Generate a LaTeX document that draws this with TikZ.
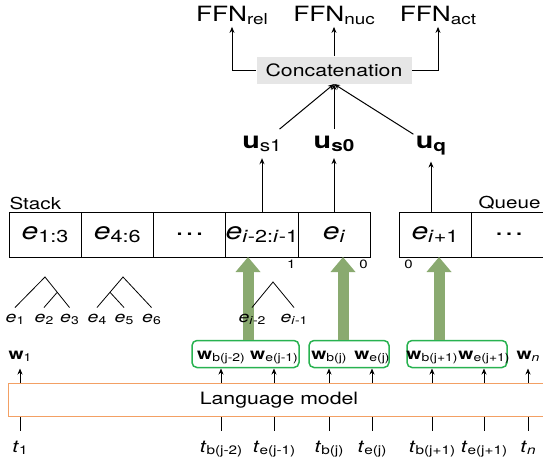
\documentclass[tikz,border=0pt]{standalone}
\usepackage{graphicx}
\usepackage{fontspec}
\setmainfont{TeX Gyre Heros}[FakeStretch=1.25]
\usetikzlibrary{arrows.meta, positioning, calc}

\definecolor{feedgreen}{RGB}{138,170,112}
\definecolor{spangreen}{RGB}{40,178,80}
\definecolor{lmorange}{RGB}{243,160,100}
\definecolor{catgray}{RGB}{230,230,230}

\newcommand{\setfs}[1]{\fontsize{#1}{#1}\selectfont}
\newcommand{\lo}[1]{\raisebox{-.15em}{\scalebox{.72}{#1}}}

\begin{document}
\begin{tikzpicture}[x=1pt, y=-1pt, line width=1pt, >={Stealth[length=6pt, width=5pt]},
  ffn/.style={font=\setfs{21}, inner sep=2pt, anchor=base},
  concat/.style={fill=catgray, minimum width=155pt, minimum height=27pt, inner sep=0pt, font=\setfs{17}},
  vec/.style={font=\setfs{23}\bfseries, inner xsep=2pt, inner ysep=6pt, anchor=base},
  cell/.style={draw, line width=.8pt, minimum width=72.2pt, minimum height=45pt, inner sep=0pt, outer sep=0pt, font=\setfs{24}},
  title/.style={font=\setfs{16.5}, inner sep=0pt},
  idx/.style={font=\setfs{12}, inner sep=2pt},
  leaf/.style={font=\setfs{15.5}, anchor=base, text height=8pt, text depth=2pt, inner xsep=1pt, inner ysep=6pt},
  feed/.style={feedgreen, line width=11pt, -{Triangle[length=15pt, width=24pt]}},
  span/.style={draw=spangreen, line width=1.5pt, rounded corners=5pt, minimum height=27pt},
  lm/.style={draw=lmorange, minimum width=542pt, minimum height=33pt, font=\setfs{17}},
  wlbl/.style={font=\setfs{15.5}, anchor=base, text height=11pt, text depth=4pt, inner xsep=0pt, inner ysep=5pt},
  tlbl/.style={font=\setfs{17}, anchor=base, text height=11pt, text depth=3pt, inner xsep=0pt, inner ysep=10pt}]

  \path[use as bounding box] (0,0) rectangle (543,459);
  \clip (0,0) rectangle (543,459);

  % classifiers
  \node[ffn] (rel) at (232,21) {FFN\lo{rel}};
  \node[ffn] (nuc) at (334,21) {FFN\lo{nuc}};
  \node[ffn] (act) at (438,21) {FFN\lo{act}};
  \node[concat] (cat) at (334,70) {Concatenation};
  \draw[->] (cat.west) -| (rel);
  \draw[->] (cat) -- (nuc);
  \draw[->] (cat.east) -| (act);

  % stack and queue
  \node[cell] (s1) at (45.1,234.5) {\textit{e}\lo{1:3}};
  \node[cell, right=0pt of s1] (s2) {\textit{e}\lo{4:6}};
  \node[cell, right=0pt of s2] (s3) {\dots};
  \node[cell, right=0pt of s3] (s4) {\textit{e}\lo{\textit{i}-2:\textit{i}-1}};
  \node[cell, right=0pt of s4] (s5) {\textit{e}\lo{\textit{i}}};
  \node[cell] (q1) at (435,234.5) {\textit{e}\lo{\textit{i}+1}};
  \node[cell, right=0pt of q1, minimum width=76pt] (q2) {\dots};
  \node[title, anchor=base west] (stack) at (9,209) {Stack};
  \node[title, anchor=base east] (queue) at (541,208) {Queue};
  \node[idx, anchor=north east] (n1) at (s4.south east) {1};
  \node[idx, anchor=north east] (n0) at (s5.south east) {0};
  \node[idx, anchor=north west, inner xsep=5pt] (m0) at (q1.south west) {0};

  % features
  \node[vec] (us1) at (262,148) {u\lo{\mdseries s1}};
  \node[vec] (us0) at (334,148) {u\lo{s0}};
  \node[vec] (uq) at (431,148) {u\lo{q}};
  \path[->]
    (us1 |- s4.north) edge (us1)
    (us0 |- s5.north) edge (us0)
    (uq |- q1.north) edge (uq)
    (us1) edge (cat.south)
    (us0) edge (cat.south)
    (uq) edge (cat.south);

  % spans
  \node[span, minimum width=107pt] (g1) at (245.5,354) {};
  \node[span, minimum width=80pt] (g2) at (349,354) {};
  \node[span, minimum width=100pt] (g3) at (457,354) {};
  \coordinate (a1) at (248,0);
  \coordinate (a2) at (343,0);
  \coordinate (a3) at (439,0);
  \draw[feed] (a1 |- g1.north) -- (a1 |- s4.south);
  \draw[feed] (a2 |- g2.north) -- (a2 |- s5.south);
  \draw[feed] (a3 |- g3.north) -- (a3 |- q1.south);

  % subtrees
  \node[leaf] (e1) at (15,322) {\textit{e}\lo{1}};
  \node[leaf] (e2) at (44,322) {\textit{e}\lo{2}};
  \node[leaf] (e3) at (69.5,322) {\textit{e}\lo{3}};
  \node[leaf] (e4) at (97,322) {\textit{e}\lo{4}};
  \node[leaf] (e5) at (124,322) {\textit{e}\lo{5}};
  \node[leaf] (e6) at (151.5,322) {\textit{e}\lo{6}};
  \node[leaf] (ei2) at (252,322) {\textit{e}\lo{\textit{i}-2}};
  \node[leaf] (ei1) at (294,322) {\textit{e}\lo{\textit{i}-1}};
  \coordinate (r1) at (45,277);
  \coordinate (r2) at (123,277);
  \coordinate (r3) at (273,282);
  \draw[line width=.8pt] (e1.north) -- (r1) -- (e3.north) ($(r1)!.5!(e3.north)$) -- (e2.north);
  \draw[line width=.8pt] (e4.north) -- (r2) -- (e6.north) ($(r2)!.5!(e4.north)$) -- (e5.north);
  \draw[line width=.8pt] (ei2.north) -- (r3) -- (ei1.north);

  % language model
  \node[lm] (lm) at (279,400) {Language model};
  \node[wlbl] (w1) at (20,359) {\textbf{w}\lo{1}};
  \node[wlbl] (wbjm2) at (221,359) {\textbf{w}\lo{b(j-2)}};
  \node[wlbl] (wejm1) at (274,359) {\textbf{w}\lo{e(j-1)}};
  \node[wlbl] (wbj) at (329,359) {\textbf{w}\lo{b(j)}};
  \node[wlbl] (wej) at (372,359) {\textbf{w}\lo{e(j)}};
  \node[wlbl] (wbjp1) at (432,359) {\textbf{w}\lo{b(j+1)}};
  \node[wlbl] (wejp1) at (484,359) {\textbf{w}\lo{e(j+1)}};
  \node[wlbl] (wn) at (528,359) {\textbf{w}\lo{\textit{n}}};
  \node[tlbl] (t1) at (20,452) {\textit{t}\lo{1}};
  \node[tlbl] (tbjm2) at (221,452) {\textit{t}\lo{b(j-2)}};
  \node[tlbl] (tejm1) at (274,452) {\textit{t}\lo{e(j-1)}};
  \node[tlbl] (tbj) at (329,452) {\textit{t}\lo{b(j)}};
  \node[tlbl] (tej) at (372,452) {\textit{t}\lo{e(j)}};
  \node[tlbl] (tbjp1) at (432,452) {\textit{t}\lo{b(j+1)}};
  \node[tlbl] (tejp1) at (484,452) {\textit{t}\lo{e(j+1)}};
  \node[tlbl] (tn) at (528,452) {\textit{t}\lo{\textit{n}}};
  \path[->]
    (lm.north -| w1) edge (w1)
    (lm.north -| wbjm2) edge (wbjm2)
    (lm.north -| wejm1) edge (wejm1)
    (lm.north -| wbj) edge (wbj)
    (lm.north -| wej) edge (wej)
    (lm.north -| wbjp1) edge (wbjp1)
    (lm.north -| wejp1) edge (wejp1)
    (lm.north -| wn) edge (wn);
  \path
    (lm.south -| t1) edge (t1)
    (lm.south -| tbjm2) edge (tbjm2)
    (lm.south -| tejm1) edge (tejm1)
    (lm.south -| tbj) edge (tbj)
    (lm.south -| tej) edge (tej)
    (lm.south -| tbjp1) edge (tbjp1)
    (lm.south -| tejp1) edge (tejp1)
    (lm.south -| tn) edge (tn);
\end{tikzpicture}
\end{document}
